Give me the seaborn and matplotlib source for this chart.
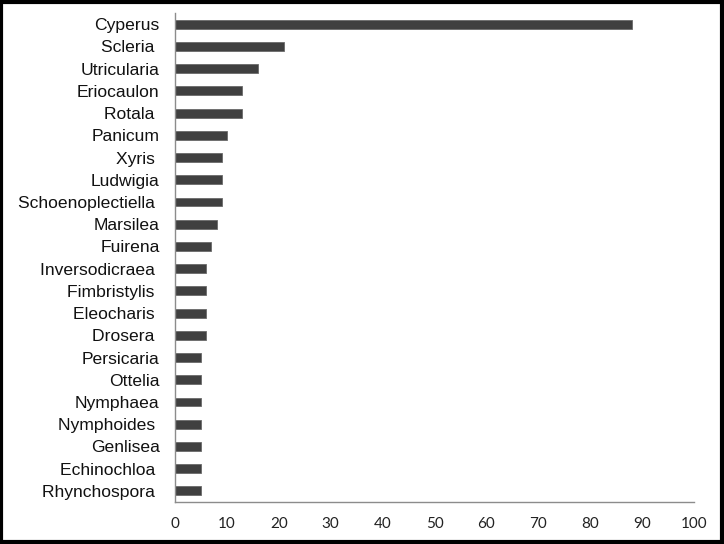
import matplotlib; matplotlib.use("Agg")
import matplotlib.pyplot as plt
import seaborn as sns
import pandas as pd
from matplotlib.patches import Rectangle

genera = ["Cyperus", "Scleria ", "Utricularia", "Eriocaulon", "Rotala ", "Panicum",
          "Xyris ", "Ludwigia", "Schoenoplectiella ", "Marsilea", "Fuirena",
          "Inversodicraea ", "Fimbristylis ", "Eleocharis ", "Drosera ", "Persicaria",
          "Ottelia", "Nymphaea", "Nymphoides ", "Genlisea", "Echinochloa ", "Rhynchospora "]
species = [88, 21, 16, 13, 13, 10, 9, 9, 9, 8, 7, 6, 6, 6, 6, 5, 5, 5, 5, 5, 5, 5]
xticks = list(range(0, 101, 10))

df = pd.DataFrame({"genus": genera, "n": species})

sns.set_style("white")
fig = plt.figure(figsize=(7.24, 5.44), dpi=100)
ax = fig.add_axes([0.2417, 0.0772, 0.7169, 0.8988])

sns.barplot(data=df, x="n", y="genus", orient="h", color="#404040",
            width=0.4, edgecolor="#6a6a6a", linewidth=0.6, saturation=1, ax=ax)

ax.set_xlim(0, 100)
ax.set_ylim(21.5, -0.5)
ax.set_xticks(xticks)
ax.set_xticklabels([str(t) for t in xticks], fontsize=11, family="Lato", color="#222222")
ax.set_yticklabels(genera, fontsize=12.6, family="Liberation Sans", color="#111111")
ax.tick_params(axis="both", length=0)
ax.tick_params(axis="x", pad=11)
ax.tick_params(axis="y", pad=11)
ax.set_xlabel("")
ax.set_ylabel("")

for s in ["top", "right"]:
    ax.spines[s].set_visible(False)
for s in ["left", "bottom"]:
    ax.spines[s].set_color("#8c8c8c")
    ax.spines[s].set_linewidth(1)

fig.patches.append(Rectangle((0.002, 0.003), 0.995, 0.994, transform=fig.transFigure,
                             fill=False, edgecolor="black", linewidth=3))

fig.savefig("out.png", dpi=100)
